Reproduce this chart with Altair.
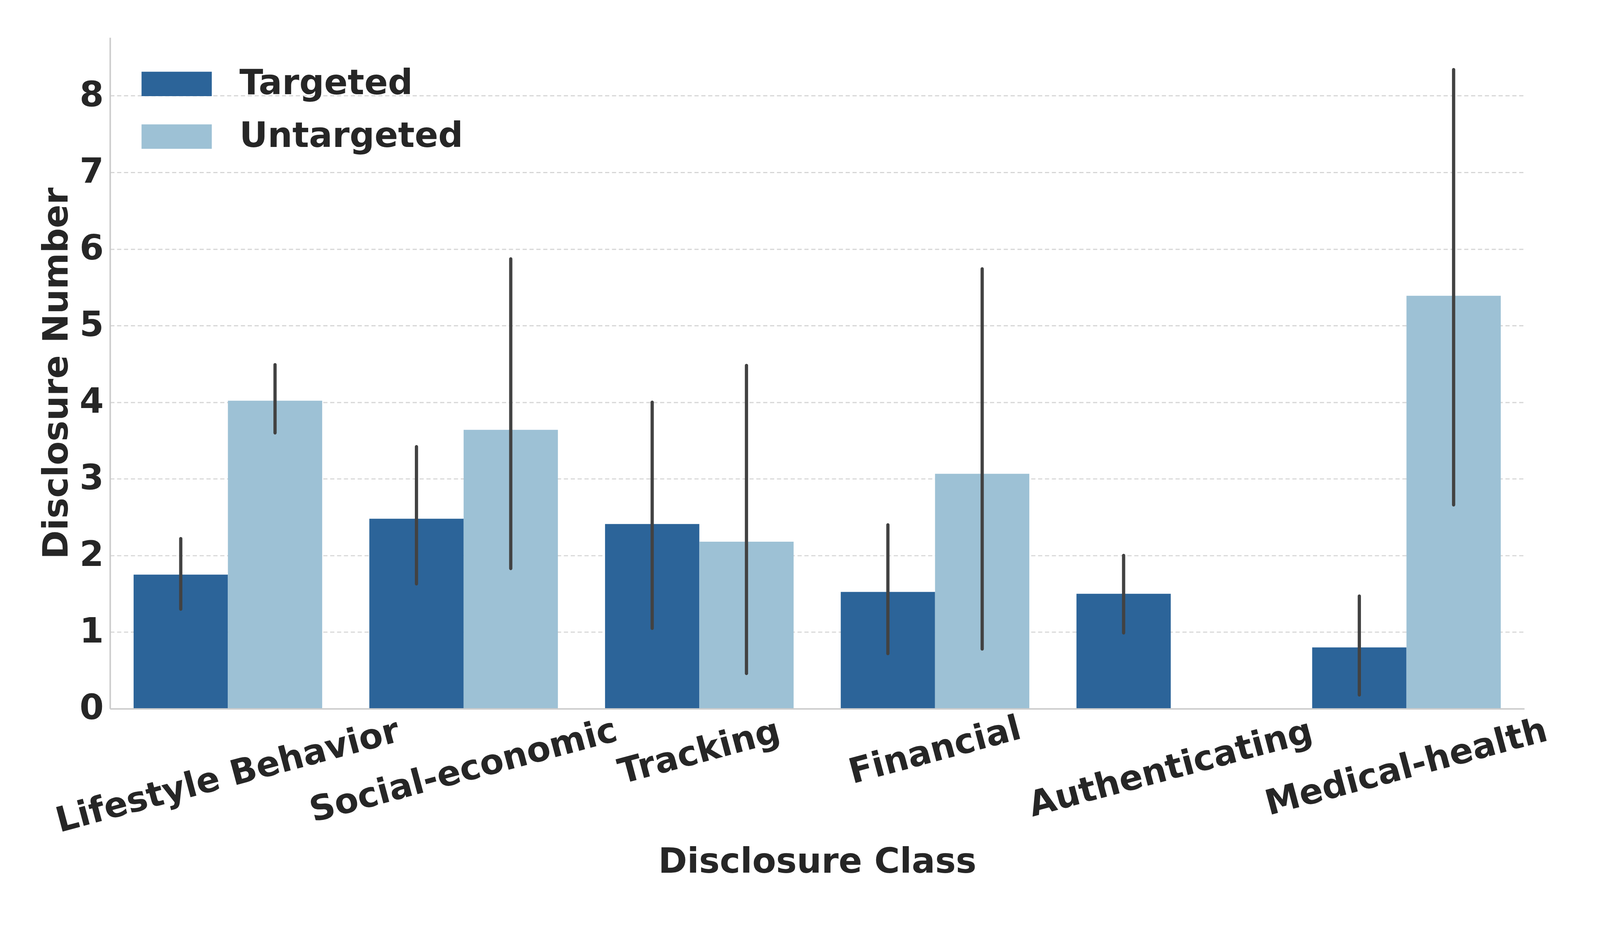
import altair as alt
import pandas as pd

# ---- data ----
classes = ["Lifestyle Behavior", "Social-economic", "Tracking",
           "Financial", "Authenticating", "Medical-health"]
groups = ["Targeted", "Untargeted"]

targeted_mean = [1.75, 2.48, 2.41, 1.525, 1.50, 0.80]
targeted_lo = [1.30, 1.63, 1.05, 0.72, 0.99, 0.18]
targeted_hi = [2.22, 3.42, 4.00, 2.40, 2.00, 1.47]

untargeted_mean = [4.02, 3.64, 2.18, 3.066, None, 5.39]
untargeted_lo = [3.60, 1.83, 0.46, 0.78, None, 2.66]
untargeted_hi = [4.49, 5.87, 4.48, 5.74, None, 8.34]

colors = ["#2c6499", "#9dc1d5"]
y_ticks = [0, 1, 2, 3, 4, 5, 6, 7, 8]

# per-label padding so the rotated labels sit like matplotlib's (bbox-top aligned)
label_pad = {"Lifestyle Behavior": 177, "Social-economic": 163, "Tracking": 114,
             "Financial": 110, "Authenticating": 157, "Medical-health": 154}

rows = []
for i, c in enumerate(classes):
    rows.append({"cls": c, "grp": "Targeted", "mean": targeted_mean[i],
                 "lo": targeted_lo[i], "hi": targeted_hi[i]})
    if untargeted_mean[i] is not None:
        rows.append({"cls": c, "grp": "Untargeted", "mean": untargeted_mean[i],
                     "lo": untargeted_lo[i], "hi": untargeted_hi[i]})
df = pd.DataFrame(rows)

FONT = "DejaVu Sans"
TXT = "#262626"
FS = 91

pad_cond = {
    "condition": [{"test": f"datum.label == '{k}'", "value": v} for k, v in label_pad.items()],
    "value": 150,
}

x_enc = alt.X(
    "cls:N", sort=classes,
    scale=alt.Scale(paddingInner=0.2, paddingOuter=0.1),
    axis=alt.Axis(
        title="Disclosure Class", labelAngle=-15, labelAlign="center",
        labelBaseline="middle", labelPadding=pad_cond, ticks=False, tickSize=0,
        domainColor="#cccccc", domainWidth=4, grid=False, labelOverlap=False,
        labelLimit=3000, titlePadding=157, zindex=1,
    ),
)
xoff_enc = alt.XOffset("grp:N", sort=groups, scale=alt.Scale(paddingInner=0, paddingOuter=0))

bars = alt.Chart(df).mark_bar(strokeWidth=0).encode(
    x=x_enc,
    xOffset=xoff_enc,
    y=alt.Y("mean:Q", scale=alt.Scale(domain=[0, 8.76], nice=False),
            axis=alt.Axis(title="Disclosure Number", values=y_ticks, format="d",
                          grid=True, gridDash=[11, 7], gridColor="#d6d6d6", gridWidth=3,
                          ticks=False, tickSize=0, domainColor="#cccccc", domainWidth=4,
                          labelPadding=17, titlePadding=12, titleLimit=3000)),
    color=alt.Color("grp:N", sort=groups,
                    scale=alt.Scale(domain=groups, range=colors),
                    legend=alt.Legend(
                        title=None, orient="none", legendX=106, legendY=53,
                        symbolType="M-1.343,-0.467L1.343,-0.467L1.343,0.467L-1.343,0.467Z",
                        symbolSize=137 * 137, symbolStrokeWidth=0, symbolOpacity=1,
                        labelFontSize=FS, labelFont=FONT, labelFontWeight="bold",
                        labelColor=TXT, labelOffset=96, rowPadding=24, padding=0,
                        labelLimit=3000)),
)

errs = alt.Chart(df).mark_rule(color="#424242", strokeWidth=8.5, strokeCap="round").encode(
    x=alt.X("cls:N", sort=classes),
    xOffset=alt.XOffset("grp:N", sort=groups),
    y=alt.Y("lo:Q"),
    y2="hi:Q",
)

chart = alt.layer(bars, errs).properties(
    width=3704, height=1757,
    autosize=alt.AutoSizeParams(type="none"),
    padding={"left": 280, "top": 63, "right": 190, "bottom": 520},
    background="white",
).configure_view(stroke=None).configure_axis(
    labelFont=FONT, labelFontSize=FS, labelFontWeight="bold", labelColor=TXT,
    titleFont=FONT, titleFontSize=FS, titleFontWeight="bold", titleColor=TXT,
)

chart.save("out.html", embed_options={"renderer": "svg", "actions": False})
